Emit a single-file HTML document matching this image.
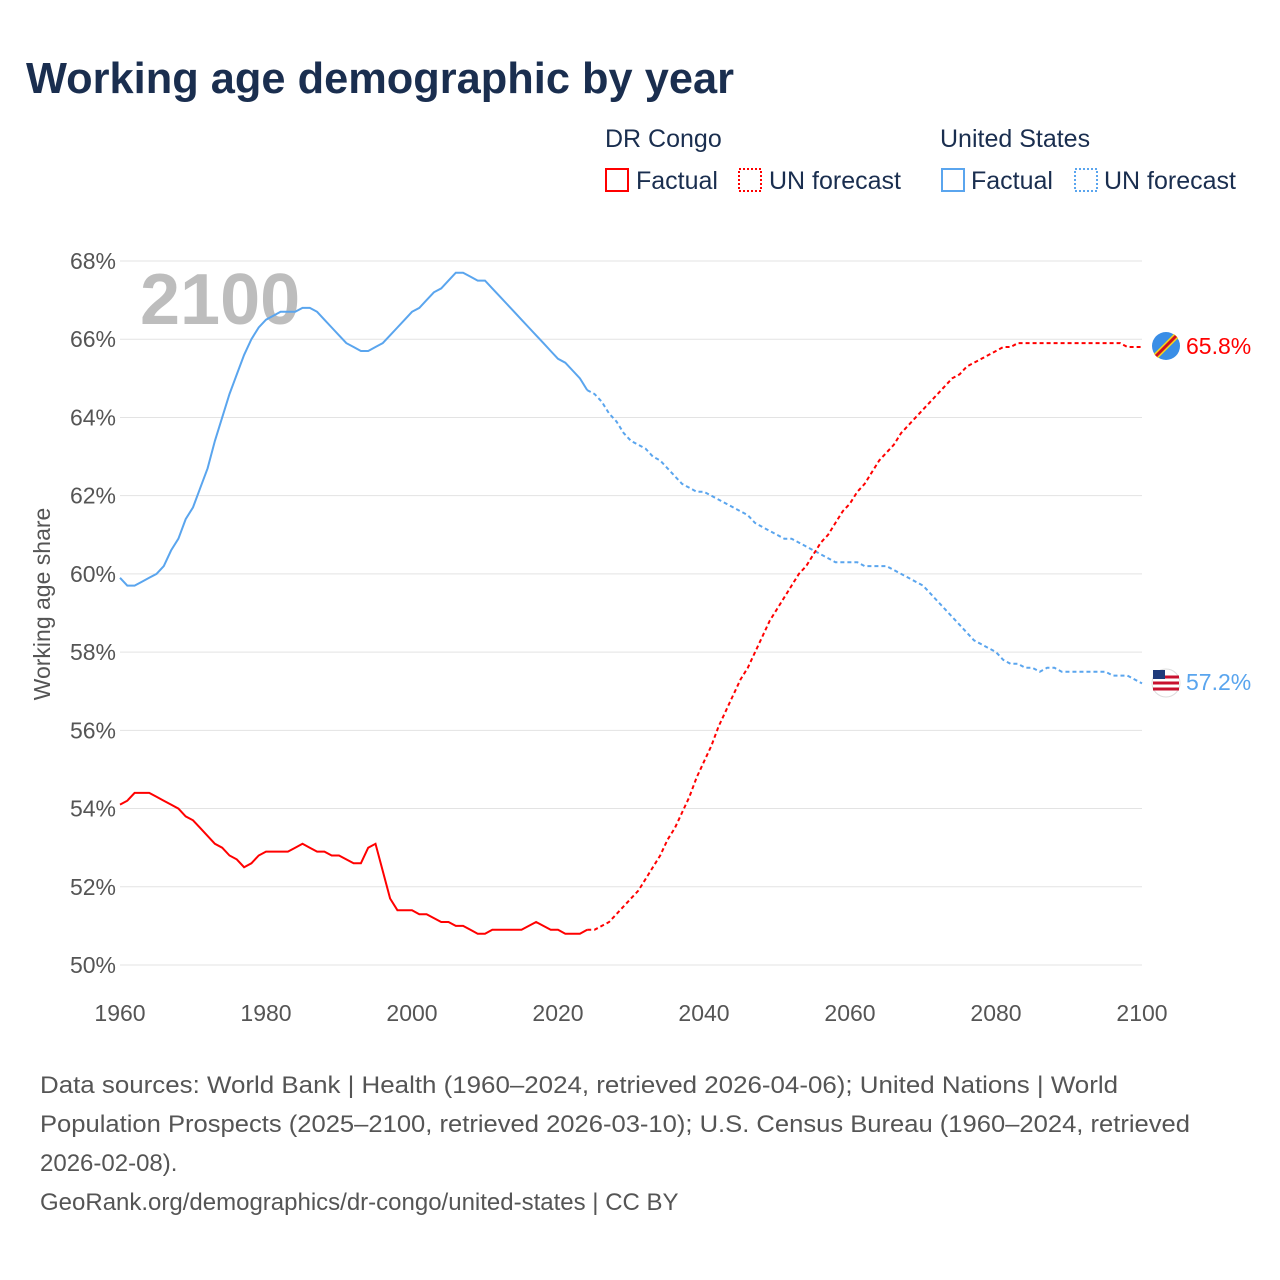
<!DOCTYPE html>
<html><head><meta charset="utf-8"><style>
body{margin:0;background:#fff;font-family:"Liberation Sans",sans-serif;}
#wrap{position:relative;width:1280px;height:1280px;overflow:hidden;}
</style></head><body>
<div id="wrap">
<svg id="chart" width="1280" height="1280" font-family="Liberation Sans, sans-serif">
<text x="26" y="93" font-size="44" font-weight="bold" fill="#1a2e4f" textLength="708" lengthAdjust="spacingAndGlyphs">Working age demographic by year</text>
<g font-size="25" fill="#1a2e4f">
<text x="605" y="147">DR Congo</text>
<text x="940" y="147">United States</text>
<g><rect x="606" y="169" width="22" height="22" fill="none" stroke="#f00" stroke-width="2"/><text x="636" y="189">Factual</text></g>
<g><rect x="739" y="169" width="22" height="22" fill="none" stroke="#f00" stroke-width="2" stroke-dasharray="2,2"/><text x="769" y="189">UN forecast</text></g>
<g><rect x="942" y="169" width="22" height="22" fill="none" stroke="#5aa5ee" stroke-width="2"/><text x="971" y="189">Factual</text></g>
<g><rect x="1075" y="169" width="22" height="22" fill="none" stroke="#5aa5ee" stroke-width="2" stroke-dasharray="2,2"/><text x="1104" y="189">UN forecast</text></g>
</g>
<text x="140" y="324" font-size="72" font-weight="bold" fill="#bdbdbd">2100</text>
<text transform="translate(50,604) rotate(-90)" text-anchor="middle" font-size="23" fill="#555">Working age share</text>
<g id="grid"></g>
<g id="series"></g>
<g>
<circle cx="1166" cy="346" r="14" fill="#3a8ee6"/>
<line x1="1156" y1="356" x2="1176" y2="336" stroke="#f7d618" stroke-width="6"/>
<line x1="1156" y1="356" x2="1176" y2="336" stroke="#ce1021" stroke-width="3"/>
<circle cx="1166" cy="683" r="14" fill="#fff" stroke="#ddd"/>
<path d="M1153 677h26M1153 683h26M1153 689h26" stroke="#c8102e" stroke-width="3"/>
<rect x="1153" y="670" width="12" height="9" fill="#1f3a7a"/>
<text x="1186" y="354" font-size="23" fill="#f00">65.8%</text>
<text x="1186" y="690" font-size="23" fill="#5aa5ee">57.2%</text>
</g>
<g font-size="24" fill="#555">
<text x="40" y="1093" textLength="1078" lengthAdjust="spacingAndGlyphs">Data sources: World Bank | Health (1960–2024, retrieved 2026-04-06); United Nations | World</text>
<text x="40" y="1132" textLength="1150" lengthAdjust="spacingAndGlyphs">Population Prospects (2025–2100, retrieved 2026-03-10); U.S. Census Bureau (1960–2024, retrieved</text>
<text x="40" y="1171">2026-02-08).</text>
<text x="40" y="1210">GeoRank.org/demographics/dr-congo/united-states | CC BY</text>
</g>
</svg>
</div>
<script>
const startYear = 1960;
const lastFactualYear = 2024;
const yTicks = [50,52,54,56,58,60,62,64,66,68];
const xTicks = [1960,1980,2000,2020,2040,2060,2080,2100];
const usValues = [59.9,59.7,59.7,59.8,59.9,60.0,60.2,60.6,60.9,61.4,61.7,62.2,62.7,63.4,64.0,64.6,65.1,65.6,66.0,66.3,66.5,66.6,66.7,66.7,66.7,66.8,66.8,66.7,66.5,66.3,66.1,65.9,65.8,65.7,65.7,65.8,65.9,66.1,66.3,66.5,66.7,66.8,67.0,67.2,67.3,67.5,67.7,67.7,67.6,67.5,67.5,67.3,67.1,66.9,66.7,66.5,66.3,66.1,65.9,65.7,65.5,65.4,65.2,65.0,64.7,
64.6,64.4,64.1,63.9,63.6,63.4,63.3,63.2,63.0,62.9,62.7,62.5,62.3,62.2,62.1,62.1,62.0,61.9,61.8,61.7,61.6,61.5,61.3,61.2,61.1,61.0,60.9,60.9,60.8,60.7,60.6,60.5,60.4,60.3,60.3,60.3,60.3,60.2,60.2,60.2,60.2,60.1,60.0,59.9,59.8,59.7,59.5,59.3,59.1,58.9,58.7,58.5,58.3,58.2,58.1,58.0,57.8,57.7,57.7,57.6,57.6,57.5,57.6,57.6,57.5,57.5,57.5,57.5,57.5,57.5,57.5,57.4,57.4,57.4,57.3,57.2];
const drcValues = [54.1,54.2,54.4,54.4,54.4,54.3,54.2,54.1,54.0,53.8,53.7,53.5,53.3,53.1,53.0,52.8,52.7,52.5,52.6,52.8,52.9,52.9,52.9,52.9,53.0,53.1,53.0,52.9,52.9,52.8,52.8,52.7,52.6,52.6,53.0,53.1,52.4,51.7,51.4,51.4,51.4,51.3,51.3,51.2,51.1,51.1,51.0,51.0,50.9,50.8,50.8,50.9,50.9,50.9,50.9,50.9,51.0,51.1,51.0,50.9,50.9,50.8,50.8,50.8,50.9,
50.9,51.0,51.1,51.3,51.5,51.7,51.9,52.2,52.5,52.8,53.2,53.5,53.9,54.3,54.8,55.2,55.6,56.1,56.5,56.9,57.3,57.6,58.0,58.4,58.8,59.1,59.4,59.7,60.0,60.2,60.5,60.8,61.0,61.3,61.6,61.8,62.1,62.3,62.6,62.9,63.1,63.3,63.6,63.8,64.0,64.2,64.4,64.6,64.8,65.0,65.1,65.3,65.4,65.5,65.6,65.7,65.8,65.8,65.9,65.9,65.9,65.9,65.9,65.9,65.9,65.9,65.9,65.9,65.9,65.9,65.9,65.9,65.9,65.8,65.8,65.8];
const X = yr => 120 + (yr - 1960) * (1022 / 140);
const Y = v => 965 - (v - 50) * (704 / 18);
const NS = "http://www.w3.org/2000/svg";
const grid = document.getElementById('grid');
yTicks.forEach(t => {
  const l = document.createElementNS(NS,'line');
  l.setAttribute('x1',120);l.setAttribute('x2',1142);l.setAttribute('y1',Y(t));l.setAttribute('y2',Y(t));
  l.setAttribute('stroke','#e3e3e3');l.setAttribute('stroke-width','1');
  
  
  grid.appendChild(l);
  const tx = document.createElementNS(NS,'text');
  tx.setAttribute('x',116);tx.setAttribute('y',Y(t)+8);tx.setAttribute('text-anchor','end');
  tx.setAttribute('font-size','23');tx.setAttribute('fill','#555');tx.textContent = t + '%';
  
  
  grid.appendChild(tx);
});
xTicks.forEach(t => {
  const tx = document.createElementNS(NS,'text');
  tx.setAttribute('x',X(t));tx.setAttribute('y',1021);tx.setAttribute('text-anchor','middle');
  tx.setAttribute('font-size','23');tx.setAttribute('fill','#555');tx.textContent = t;
  
  
  grid.appendChild(tx);
});
const series = document.getElementById('series');
function draw(vals, color, name){
  const split = lastFactualYear - startYear;
  const pts = vals.map((v,i)=>X(startYear+i).toFixed(1)+','+Y(v).toFixed(1));
  const a = document.createElementNS(NS,'polyline');
  a.setAttribute('points', pts.slice(0, split+1).join(' '));
  a.setAttribute('fill','none');a.setAttribute('stroke',color);a.setAttribute('stroke-width','2');
  
  
  series.appendChild(a);
  const b = document.createElementNS(NS,'polyline');
  b.setAttribute('points', pts.slice(split).join(' '));
  b.setAttribute('fill','none');b.setAttribute('stroke',color);b.setAttribute('stroke-width','2');b.setAttribute('stroke-dasharray','4,3');
  
  
  series.appendChild(b);
}
draw(usValues,'#5aa5ee','us');
draw(drcValues,'#ff0000','drc');
</script>
</body></html>
